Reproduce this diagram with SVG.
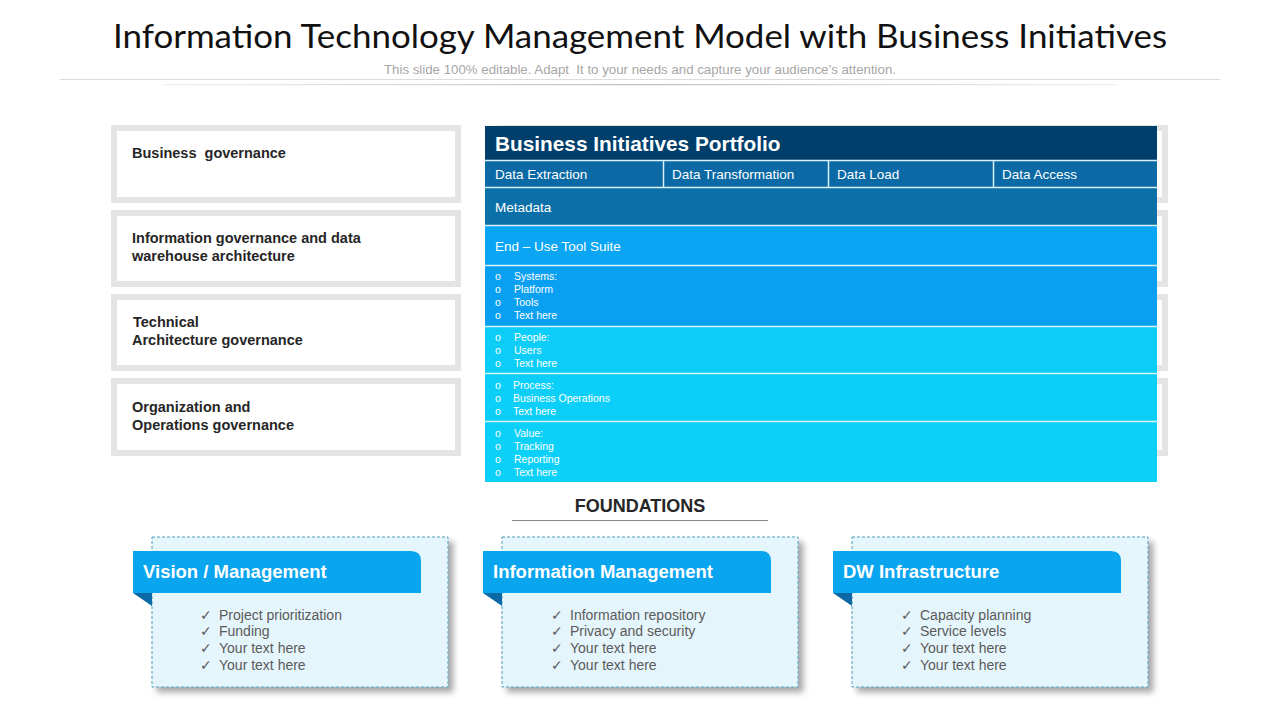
<svg xmlns="http://www.w3.org/2000/svg" width="1280" height="720" viewBox="0 0 1280 720">
  <defs>
    <style>
      .title{font-family:"Lato","Liberation Sans",sans-serif;font-size:32px;fill:#111;}
      .sub{font-family:"Liberation Sans",Arial,sans-serif;font-size:12.5px;fill:#a6a6a6;white-space:pre;}
      .frame{fill:#ffffff;stroke:#e4e4e4;stroke-width:6;}
      .lbl{font-family:"Liberation Sans",Arial,sans-serif;font-size:14.5px;font-weight:bold;fill:#262626;white-space:pre;}
      .th{font-family:"Liberation Sans",Arial,sans-serif;font-size:20.8px;font-weight:bold;fill:#ffffff;}
      .td{font-family:"Liberation Sans",Arial,sans-serif;font-size:13.5px;fill:#ffffff;white-space:pre;}
      .sm{font-family:"Liberation Sans",Arial,sans-serif;font-size:10.5px;fill:#ffffff;}
      .found{font-family:"Liberation Sans",Arial,sans-serif;font-size:18px;font-weight:bold;fill:#262626;}
      .card{fill:#e5f5fc;stroke:#4f9dba;stroke-width:1;stroke-dasharray:3 2;}
      .tab{fill:#0aa5ef;}
      .fold{fill:#0b6aa6;}
      .ct{font-family:"Liberation Sans",Arial,sans-serif;font-size:18.5px;font-weight:bold;fill:#ffffff;}
      .it{font-family:"Liberation Sans",Arial,sans-serif;font-size:14px;fill:#5a5a5a;}
      .sep{stroke:#d9f1fb;stroke-width:1.5;}
    </style>
    <filter id="sh" x="-10%" y="-10%" width="130%" height="130%">
      <feGaussianBlur in="SourceAlpha" stdDeviation="3"/>
      <feOffset dx="5" dy="5" result="b"/>
      <feComponentTransfer><feFuncA type="linear" slope="0.35"/></feComponentTransfer>
      <feMerge><feMergeNode/><feMergeNode in="SourceGraphic"/></feMerge>
    </filter>
    <linearGradient id="lg" gradientUnits="userSpaceOnUse" x1="163" x2="1117" y1="0" y2="0">
      <stop offset="0" stop-color="#cccccc" stop-opacity="0.3"/>
      <stop offset="0.5" stop-color="#bdbdbd"/>
      <stop offset="1" stop-color="#cccccc" stop-opacity="0.3"/>
    </linearGradient>
  </defs>
  <rect width="1280" height="720" fill="#ffffff"/>

  <g id="header">
    <text class="title" x="640" y="48" text-anchor="middle" textLength="1054" lengthAdjust="spacingAndGlyphs">Information Technology Management Model with Business Initiatives</text>
    <line x1="60" y1="79.5" x2="1220" y2="79.5" stroke="#dcdcdc" stroke-width="1"/>
    <text class="sub" x="640" y="74" text-anchor="middle" textLength="512" lengthAdjust="spacingAndGlyphs" xml:space="preserve">This slide 100% editable. Adapt  It to your needs and capture your audience’s attention.</text>
    <rect x="163" y="84" width="954" height="1.2" fill="url(#lg)"/>
  </g>

  <g id="right-frames">
    <rect class="frame" x="500" y="128" width="665" height="72"/>
    <rect class="frame" x="500" y="213" width="665" height="71"/>
    <rect class="frame" x="500" y="297" width="665" height="71"/>
    <rect class="frame" x="500" y="381" width="665" height="72"/>
  </g>

  <g id="gov-business">
    <rect class="frame" x="114" y="128" width="344" height="72"/>
    <text class="lbl" x="132" y="158" xml:space="preserve">Business  governance</text>
  </g>
  <g id="gov-information">
    <rect class="frame" x="114" y="213" width="344" height="71"/>
    <text class="lbl" x="132" y="243">Information governance and data</text>
    <text class="lbl" x="132" y="261">warehouse architecture</text>
  </g>
  <g id="gov-technical">
    <rect class="frame" x="114" y="297" width="344" height="71"/>
    <text class="lbl" x="133" y="327">Technical</text>
    <text class="lbl" x="132" y="345">Architecture governance</text>
  </g>
  <g id="gov-organization">
    <rect class="frame" x="114" y="381" width="344" height="72"/>
    <text class="lbl" x="132" y="412">Organization and</text>
    <text class="lbl" x="132" y="430">Operations governance</text>
  </g>

  <g id="portfolio">
    <rect x="485" y="126" width="672" height="34" fill="#003e6b"/>
    <text class="th" x="495" y="151">Business Initiatives Portfolio</text>
    <rect x="485" y="161" width="672" height="26" fill="#0b6aa5"/>
    <text class="td" x="495" y="179">Data Extraction</text>
    <text class="td" x="672" y="179">Data Transformation</text>
    <text class="td" x="837" y="179">Data Load</text>
    <text class="td" x="1002" y="179">Data Access</text>
    <rect x="485" y="188" width="672" height="37" fill="#0b6fa8"/>
    <text class="td" x="495" y="212">Metadata</text>
    <rect x="485" y="226" width="672" height="39" fill="#0aa6f4"/>
    <text class="td" x="495" y="251">End – Use Tool Suite</text>
    <rect x="485" y="266" width="672" height="60" fill="#0aa0f2"/>
    <rect x="485" y="327" width="672" height="46" fill="#0bcdf7"/>
    <rect x="485" y="374" width="672" height="47" fill="#0bcff8"/>
    <rect x="485" y="422" width="672" height="60" fill="#0bd0f8"/>
    <line class="sep" x1="485" y1="160.5" x2="1157" y2="160.5"/>
    <line class="sep" x1="485" y1="187.5" x2="1157" y2="187.5"/>
    <line class="sep" x1="485" y1="225.5" x2="1157" y2="225.5"/>
    <line class="sep" x1="485" y1="265.5" x2="1157" y2="265.5"/>
    <line class="sep" x1="485" y1="326.5" x2="1157" y2="326.5"/>
    <line class="sep" x1="485" y1="373.5" x2="1157" y2="373.5"/>
    <line class="sep" x1="485" y1="421.5" x2="1157" y2="421.5"/>
    <line class="sep" x1="663.5" y1="161" x2="663.5" y2="187"/>
    <line class="sep" x1="828.5" y1="161" x2="828.5" y2="187"/>
    <line class="sep" x1="993.5" y1="161" x2="993.5" y2="187"/>
    <g class="sm">
      <text x="495" y="280">o</text><text x="514" y="280">Systems:</text>
      <text x="495" y="293">o</text><text x="514" y="293">Platform</text>
      <text x="495" y="306">o</text><text x="514" y="306">Tools</text>
      <text x="495" y="319">o</text><text x="514" y="319">Text here</text>
      <text x="495" y="341">o</text><text x="514" y="341">People:</text>
      <text x="495" y="354">o</text><text x="514" y="354">Users</text>
      <text x="495" y="367">o</text><text x="514" y="367">Text here</text>
      <text x="495" y="389">o</text><text x="513" y="389">Process:</text>
      <text x="495" y="402">o</text><text x="513" y="402">Business Operations</text>
      <text x="495" y="415">o</text><text x="513" y="415">Text here</text>
      <text x="495" y="437">o</text><text x="514" y="437">Value:</text>
      <text x="495" y="450">o</text><text x="514" y="450">Tracking</text>
      <text x="495" y="463">o</text><text x="514" y="463">Reporting</text>
      <text x="495" y="476">o</text><text x="514" y="476">Text here</text>
    </g>
  </g>

  <g id="foundations">
    <text class="found" x="640" y="512" text-anchor="middle">FOUNDATIONS</text>
    <line x1="512" y1="520.5" x2="768" y2="520.5" stroke="#8a8a8a" stroke-width="1"/>
  </g>

  <g id="card-vision">
    <rect class="card" x="152" y="537" width="296" height="150" filter="url(#sh)"/>
    <path class="tab" d="M133,551 H411 Q421,551 421,561 V593 H133 Z"/>
    <path class="fold" d="M133,593 H152 V606 Z"/>
    <text class="ct" x="143" y="578">Vision / Management</text>
    <g class="it">
      <text x="200" y="620">✓</text><text x="219" y="620">Project prioritization</text>
      <text x="200" y="636">✓</text><text x="219" y="636">Funding</text>
      <text x="200" y="653">✓</text><text x="219" y="653">Your text here</text>
      <text x="200" y="670">✓</text><text x="219" y="670">Your text here</text>
    </g>
  </g>

  <g id="card-information">
    <rect class="card" x="502" y="537" width="296" height="150" filter="url(#sh)"/>
    <path class="tab" d="M483,551 H761 Q771,551 771,561 V593 H483 Z"/>
    <path class="fold" d="M483,593 H502 V606 Z"/>
    <text class="ct" x="493" y="578">Information Management</text>
    <g class="it">
      <text x="551" y="620">✓</text><text x="570" y="620">Information repository</text>
      <text x="551" y="636">✓</text><text x="570" y="636">Privacy and security</text>
      <text x="551" y="653">✓</text><text x="570" y="653">Your text here</text>
      <text x="551" y="670">✓</text><text x="570" y="670">Your text here</text>
    </g>
  </g>

  <g id="card-dw">
    <rect class="card" x="852" y="537" width="296" height="150" filter="url(#sh)"/>
    <path class="tab" d="M833,551 H1111 Q1121,551 1121,561 V593 H833 Z"/>
    <path class="fold" d="M833,593 H852 V606 Z"/>
    <text class="ct" x="843" y="578">DW Infrastructure</text>
    <g class="it">
      <text x="901" y="620">✓</text><text x="920" y="620">Capacity planning</text>
      <text x="901" y="636">✓</text><text x="920" y="636">Service levels</text>
      <text x="901" y="653">✓</text><text x="920" y="653">Your text here</text>
      <text x="901" y="670">✓</text><text x="920" y="670">Your text here</text>
    </g>
  </g>

  <g id="connectors"></g>
</svg>
